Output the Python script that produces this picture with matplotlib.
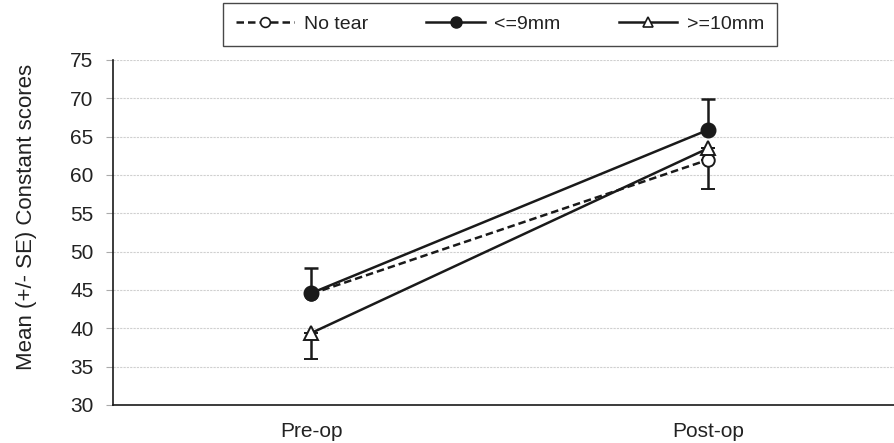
import matplotlib.pyplot as plt
from matplotlib.lines import Line2D

plt.rcParams['font.family'] = ['Liberation Sans', 'DejaVu Sans']

timepoints = ['Pre-op', 'Post-op']
no_tear = [44.5, 62.0]
no_tear_err_lo = [0.0, 3.8]
no_tear_err_hi = [0.0, 0.0]
small = [44.6, 65.9]
small_err_lo = [0.0, 0.0]
small_err_hi = [3.3, 4.0]
large = [39.4, 63.5]
large_err_lo = [3.4, 0.0]
large_err_hi = [0.0, 0.0]

fig = plt.figure(figsize=(8.94, 4.43), dpi=100)
ax = fig.add_axes([0.1264, 0.0858, 0.888, 0.7788])

x = range(len(timepoints))
dark = '#1a1a1a'
eb = dict(ecolor=dark, elinewidth=1.8, capsize=5, capthick=1.8)

ax.errorbar(x, no_tear, yerr=[no_tear_err_lo, no_tear_err_hi], color=dark,
            lw=1.8, ls='--', dashes=(3, 1.6), marker='o', ms=9, mfc='white',
            mec=dark, mew=1.4, zorder=3, **eb)
ax.errorbar(x, large, yerr=[large_err_lo, large_err_hi], color=dark,
            lw=1.8, marker='^', ms=10.5, mfc='white', mec=dark, mew=1.4, zorder=4, **eb)
ax.errorbar(x, small, yerr=[small_err_lo, small_err_hi], color=dark,
            lw=1.8, marker='o', ms=10.5, mfc=dark, mec=dark, zorder=5, **eb)

ax.set_xlim(-0.5, 1.5)
ax.set_ylim(30, 75)
ax.set_yticks(range(30, 80, 5))
ax.set_xticks(list(x))
ax.set_xticklabels(timepoints, fontsize=15)
ax.tick_params(axis='x', length=0, pad=12, labelcolor='#222222')
ax.tick_params(axis='y', length=5, color='#aaaaaa', labelsize=15, pad=9,
               labelcolor='#222222')
ax.yaxis.grid(True, color='#d0d0d0', ls=(0, (2, 1)), lw=0.8)
ax.set_axisbelow(True)
for s in ['top', 'right']:
    ax.spines[s].set_visible(False)
for s in ['left', 'bottom']:
    ax.spines[s].set_color(dark)
    ax.spines[s].set_linewidth(1.2)
ax.set_ylabel('Mean (+/- SE) Constant scores', fontsize=16, color='#222222')
ax.yaxis.set_label_coords(-0.0957, 0.546)

handles = [
    Line2D([], [], color=dark, lw=1.8, ls='--', dashes=(3, 1.6), marker='o',
           ms=7, mfc='white', mec=dark, mew=1.2),
    Line2D([], [], color=dark, lw=1.8, marker='o', ms=8, mfc=dark),
    Line2D([], [], color=dark, lw=1.8, marker='^', ms=7, mfc='white',
           mec=dark, mew=1.2),
]
leg = fig.legend(handles, ['No tear', '<=9mm', '>=10mm'], loc='center',
                 bbox_to_anchor=(500 / 894, 1 - 24.5 / 443), ncol=3, fontsize=14,
                 frameon=True, fancybox=False, edgecolor=dark,
                 handlelength=3.0, columnspacing=3.0, handletextpad=0.5,
                 borderpad=0.65)
leg.get_frame().set_linewidth(1.0)
for t in leg.get_texts():
    t.set_color('#222222')

fig.savefig('out.png', dpi=100)
